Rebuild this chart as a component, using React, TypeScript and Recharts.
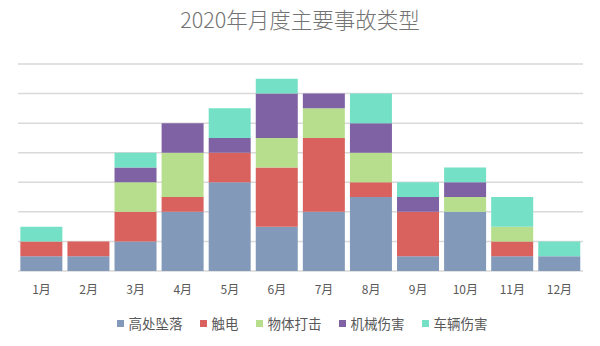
import React from "react";
import { BarChart, Bar, XAxis, YAxis, CartesianGrid } from "recharts";

const months = ["1月", "2月", "3月", "4月", "5月", "6月", "7月", "8月", "9月", "10月", "11月", "12月"];
const fall = [1, 1, 2, 4, 6, 3, 4, 5, 1, 4, 1, 1];
const electric = [1, 1, 2, 1, 2, 4, 5, 1, 3, 0, 1, 0];
const strike = [0, 0, 2, 3, 0, 2, 2, 2, 0, 1, 1, 0];
const machine = [0, 0, 1, 2, 1, 3, 1, 2, 1, 1, 0, 0];
const vehicle = [1, 0, 1, 0, 2, 1, 0, 2, 1, 1, 2, 1];
const yTicks = [0, 2, 4, 6, 8, 10, 12, 14];

const series = [
  { key: "fall", name: "高处坠落", color: "#8399B9", values: fall },
  { key: "electric", name: "触电", color: "#D9625F", values: electric },
  { key: "strike", name: "物体打击", color: "#B6DE8C", values: strike },
  { key: "machine", name: "机械伤害", color: "#7F62A3", values: machine },
  { key: "vehicle", name: "车辆伤害", color: "#74E0C6", values: vehicle },
];

const data = months.map((m, i) => {
  const row: Record<string, string | number> = { month: m };
  series.forEach((s) => {
    row[s.key] = s.values[i];
  });
  return row;
});

const font = "'Noto Sans CJK SC', 'Noto Sans', sans-serif";

export default function App() {
  return (
    <div style={{ position: "absolute", left: 0, top: 0, width: 600, height: 346, background: "#fff", fontFamily: font }}>
      <div
        style={{
          position: "absolute",
          top: 5,
          left: 0,
          width: 600,
          textAlign: "center",
          fontSize: 21.5,
          fontWeight: 300,
          color: "#737373",
          lineHeight: "28px",
        }}
      >
        2020年月度主要事故类型
      </div>
      <BarChart
        width={600}
        height={300}
        data={data}
        margin={{ top: 64, right: 17, left: 18, bottom: 0 }}
        barCategoryGap="5%"
      >
        <CartesianGrid vertical={false} stroke="#d9d9d9" strokeWidth={1.5} />
        <YAxis hide domain={[0, 14]} ticks={yTicks} />
        <XAxis
          dataKey="month"
          height={29}
          axisLine={false}
          tickLine={false}
          tickSize={0}
          tickMargin={14}
          tick={{ fill: "#595959", fontSize: 12, fontFamily: font }}
        />
        {series.map((s) => (
          <Bar key={s.key} dataKey={s.key} name={s.name} stackId="a" fill={s.color} isAnimationActive={false} />
        ))}
      </BarChart>
      <div
        style={{
          position: "absolute",
          top: 313,
          left: 0,
          width: 604,
          display: "flex",
          justifyContent: "center",
          alignItems: "center",
          fontSize: 13.5,
          color: "#595959",
          lineHeight: "20px",
        }}
      >
        {series.map((s, i) => (
          <div key={s.key} style={{ display: "flex", alignItems: "center", marginLeft: i === 0 ? 0 : 17 }}>
            <span style={{ display: "inline-block", width: 7, height: 7, background: s.color, marginRight: 5 }} />
            <span>{s.name}</span>
          </div>
        ))}
      </div>
    </div>
  );
}
